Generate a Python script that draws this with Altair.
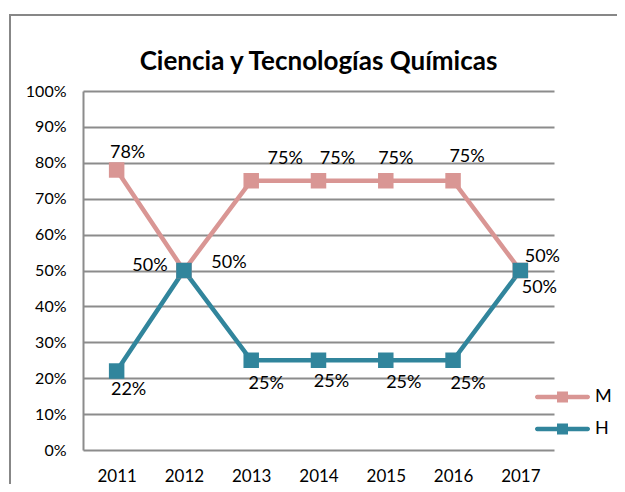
import altair as alt
import pandas as pd

years = ["2011", "2012", "2013", "2014", "2015", "2016", "2017"]
m_values = [0.78, 0.50, 0.75, 0.75, 0.75, 0.75, 0.50]
h_values = [0.22, 0.50, 0.25, 0.25, 0.25, 0.25, 0.50]
series = ["M", "H"]
colors = ["#D99694", "#31859C"]
title_text = "Ciencia y Tecnologías Químicas"

rows = []
for s, vals in zip(series, [m_values, h_values]):
    for y, v in zip(years, vals):
        rows.append({"year": y, "serie": s, "value": v})
df = pd.DataFrame(rows)

FONT = "Lato"
W, H = 471, 359

x_enc = alt.X("year:O", title=None,
              axis=alt.Axis(labelAngle=0, labelFontSize=17, labelFont=FONT, labelColor="black",
                            ticks=False, domain=False, labelPadding=18, grid=False))
y_enc = alt.Y("value:Q", title=None,
              scale=alt.Scale(domain=[0, 1], nice=False),
              axis=alt.Axis(values=[i / 10 for i in range(11)], format=".0%", labelFontSize=16,
                            labelFont=FONT, labelColor="black", ticks=False, labelPadding=17,
                            grid=True, gridColor="#8c8c8c", gridWidth=2,
                            domain=True, domainColor="#8c8c8c", domainWidth=2))
color_scale = alt.Scale(domain=series, range=colors)
# same mapping, listed in reverse so the line scale stays separate from the legend scale
stroke_scale = alt.Scale(domain=series[::-1], range=colors[::-1])

base = alt.Chart(df)

frame = alt.Chart(pd.DataFrame({"a": [0]})).mark_rect(
    fill="transparent", stroke="#878787", strokeWidth=2
).encode(x=alt.value(-73), x2=alt.value(700), y=alt.value(-76), y2=alt.value(600))

lines = base.mark_line(strokeWidth=4.5).encode(
    x=x_enc, y=y_enc,
    stroke=alt.Stroke("serie:N", scale=stroke_scale, legend=None),
)

leg_path = ("M-0.92,-0.08 H0.92 A0.08,0.08 0 0 1 0.92,0.08 H-0.92 A0.08,0.08 0 0 1 -0.92,-0.08 Z "
            "M-0.2,-0.2 H0.2 V0.2 H-0.2 Z")

points = base.mark_square(size=240, opacity=1, filled=True).encode(
    x=x_enc, y=y_enc,
    color=alt.Color("serie:N", scale=color_scale, sort=series,
                    legend=alt.Legend(title=None, orient="none", legendX=452, legendY=297,
                                      symbolType=leg_path, symbolSize=3025, symbolStrokeWidth=0,
                                      symbolOpacity=1, labelFontSize=18, labelFont=FONT,
                                      labelColor="black", clipHeight=18, rowPadding=14,
                                      labelOffset=5, padding=0)),
)


def labels(serie, yrs, dx, dy):
    cond = f"datum.serie == '{serie}' && indexof({yrs}, datum.year) >= 0"
    return base.transform_filter(cond).mark_text(
        dx=dx, dy=dy, fontSize=18, font=FONT, color="black"
    ).encode(x=x_enc, y=y_enc, text=alt.Text("value:Q", format=".0%"))


text_layers = [
    labels("M", ["2011"], 11, -17),
    labels("M", ["2012"], 45, -8),
    labels("M", ["2013"], 34, -22),
    labels("M", ["2014"], 19, -22),
    labels("M", ["2015"], 10, -22),
    labels("M", ["2016"], 14, -24),
    labels("M", ["2017"], 22, -14),
    labels("H", ["2011"], 12, 19),
    labels("H", ["2012"], -34, -5),
    labels("H", ["2013", "2016"], 15, 24),
    labels("H", ["2014"], 13, 22),
    labels("H", ["2015"], 18, 23),
    labels("H", ["2017"], 19, 17),
]

chart = alt.layer(frame, lines, points, *text_layers).properties(
    width=W, height=H,
    title=alt.TitleParams(title_text, font=FONT, fontSize=26, fontWeight="bold",
                          color="black", anchor="middle", offset=-61),
    autosize=alt.AutoSizeParams(type="none"),
    padding={"left": 75, "top": 83, "right": 63, "bottom": 34},
).configure_view(stroke=None)

chart.save("out.html", embed_options={"renderer": "svg", "actions": False})
